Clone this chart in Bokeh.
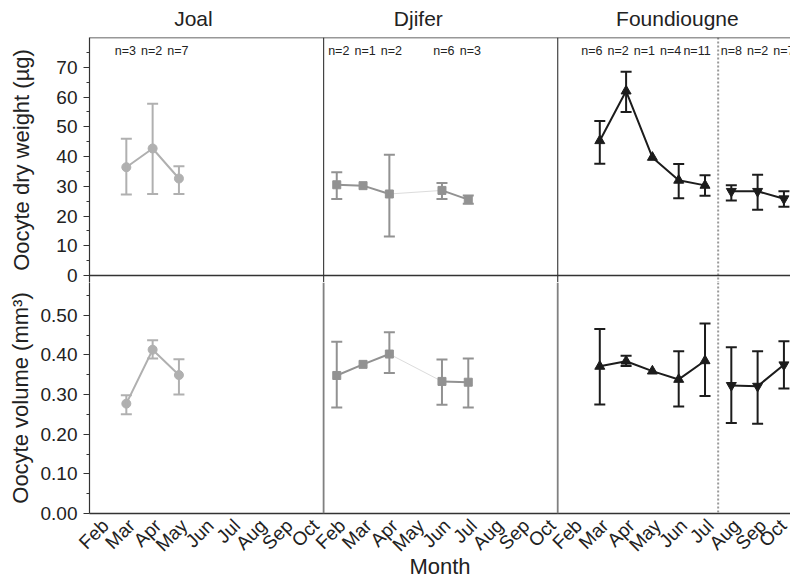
import math
from bokeh.plotting import figure
from bokeh.layouts import column
from bokeh.models import (Range1d, FixedTicker, Span, Whisker, TeeHead,
                          ColumnDataSource, LinearAxis, NumeralTickFormatter)
from bokeh.core.properties import value
from bokeh.embed import file_html
from bokeh.resources import INLINE

FONT = "Liberation Sans"
TXT = "#222222"

# ---------------- data ----------------
months = ["Feb", "Mar", "Apr", "May", "Jun", "Jul", "Aug", "Sep", "Oct"]
sites = ["Joal", "Djifer", "Foundiougne"]

joal_months = ["Mar", "Apr", "May"]
joal_n = [3, 2, 7]
joal_dw = [36.4, 42.7, 32.6]
joal_dw_lo = [27.2, 27.4, 27.4]
joal_dw_hi = [46.0, 57.7, 36.7]
joal_vol = [0.277, 0.413, 0.349]
joal_vol_lo = [0.250, 0.391, 0.300]
joal_vol_hi = [0.298, 0.437, 0.389]

djifer_months = ["Feb", "Mar", "Apr", "Jun", "Jul"]
djifer_n = [2, 1, 2, 6, 3]
djifer_dw = [30.5, 30.2, 27.4, 28.6, 25.5]
djifer_dw_lo = [25.7, None, 13.1, 25.7, 24.1]
djifer_dw_hi = [34.7, None, 40.6, 31.1, 26.9]
djifer_vol = [0.348, 0.376, 0.402, 0.333, 0.331]
djifer_vol_lo = [0.267, None, 0.354, 0.274, 0.267]
djifer_vol_hi = [0.433, None, 0.457, 0.388, 0.391]

found1_months = ["Mar", "Apr", "May", "Jun", "Jul"]
found1_n = [6, 2, 1, 4, 11]
found1_dw = [45.3, 62.0, 39.7, 32.0, 30.3]
found1_dw_lo = [37.6, 55.0, None, 26.0, 26.8]
found1_dw_hi = [51.9, 68.5, None, 37.5, 33.7]
found1_vol = [0.371, 0.384, 0.359, 0.338, 0.385]
found1_vol_lo = [0.275, 0.372, None, 0.270, 0.296]
found1_vol_hi = [0.465, 0.398, None, 0.409, 0.479]

found2_months = ["Aug", "Sep", "Oct"]
found2_n = [8, 2, 7]
found2_dw = [28.3, 28.3, 25.8]
found2_dw_lo = [25.2, 22.1, 23.1]
found2_dw_hi = [30.3, 33.9, 28.3]
found2_vol = [0.323, 0.321, 0.375]
found2_vol_lo = [0.228, 0.226, 0.315]
found2_vol_hi = [0.419, 0.409, 0.434]

series = [
    dict(site=0, months=joal_months, n=joal_n, color="#b0b0b0", marker="circle", size=9, noff=-1,
         dw=(joal_dw, joal_dw_lo, joal_dw_hi), vol=(joal_vol, joal_vol_lo, joal_vol_hi)),
    dict(site=1, months=djifer_months, n=djifer_n, color="#929292", marker="square", size=8, noff=2,
         dw=(djifer_dw, djifer_dw_lo, djifer_dw_hi), vol=(djifer_vol, djifer_vol_lo, djifer_vol_hi)),
    dict(site=2, months=found1_months, n=found1_n, color="#1c1c1c", marker="triangle", size=10, noff=-8,
         dw=(found1_dw, found1_dw_lo, found1_dw_hi), vol=(found1_vol, found1_vol_lo, found1_vol_hi)),
    dict(site=2, months=found2_months, n=found2_n, color="#1c1c1c", marker="inverted_triangle", size=10, noff=0,
         dw=(found2_dw, found2_dw_lo, found2_dw_hi), vol=(found2_vol, found2_vol_lo, found2_vol_hi)),
]

title_x = [3.55, 12.1, 21.95]


def xs_of(s):
    return [s["site"] * 9 + months.index(m) for m in s["months"]]


def style_yaxis(ax):
    ax.axis_line_color = "#333333"
    ax.axis_line_width = 1.2
    ax.major_tick_line_color = "#333333"
    ax.minor_tick_line_color = "#333333"
    ax.major_tick_out = 6
    ax.major_tick_in = 0
    ax.minor_tick_out = 3
    ax.minor_tick_in = 0
    ax.major_label_standoff = 6
    ax.major_label_text_font = FONT
    ax.major_label_text_font_size = "19px"
    ax.major_label_text_color = TXT
    ax.axis_label_text_font = FONT
    ax.axis_label_text_font_size = "22px"
    ax.axis_label_text_font_style = "normal"
    ax.axis_label_text_color = TXT


def make_fig(height, yr, top, bottom, xaxis):
    p = figure(width=790, height=height, x_range=Range1d(-0.4, 26.25), y_range=yr,
               output_backend="svg", toolbar_location=None,
               min_border_left=89, min_border_right=0, min_border_top=top,
               min_border_bottom=bottom, x_axis_location="below" if xaxis else None)
    p.outline_line_color = None
    p.xgrid.visible = False
    p.ygrid.visible = False
    style_yaxis(p.yaxis[0])
    return p


def draw(p, key, dark_div):
    for s in series:
        xs = xs_of(s)
        ys, lo, hi = s[key]
        lx, ly = [], []
        for i, (x, y) in enumerate(zip(xs, ys)):
            if i > 0 and x - xs[i - 1] > 1:
                lx.append(float("nan"))
                ly.append(float("nan"))
                p.line([xs[i - 1], x], [ys[i - 1], y], line_color="#dcdcdc", line_width=1)
            lx.append(x)
            ly.append(y)
        p.line(lx, ly, line_color=s["color"], line_width=2)
        wx = [x for x, l in zip(xs, lo) if l is not None]
        wl = [l for l in lo if l is not None]
        wh = [h for h in hi if h is not None]
        src = ColumnDataSource(dict(x=wx, lo=wl, hi=wh))
        w = Whisker(base="x", lower="lo", upper="hi", source=src, level="glyph",
                    line_color=s["color"], line_width=2,
                    upper_head=TeeHead(size=11, line_color=s["color"], line_width=2),
                    lower_head=TeeHead(size=11, line_color=s["color"], line_width=2))
        p.add_layout(w)
        p.scatter(xs, ys, marker=s["marker"], size=s["size"], fill_color=s["color"],
                  line_color=s["color"])
    for loc in (8.5, 17.4):
        p.add_layout(Span(location=loc, dimension="height",
                          line_color="#444444" if dark_div else "#808080",
                          line_width=1.2 if dark_div else 1.8))
    p.add_layout(Span(location=23.5, dimension="height", line_color="#9a9a9a",
                      line_width=2, line_dash="2 2"))


# ---------------- top: dry weight ----------------
p1 = make_fig(282, Range1d(-2.35, 80), 37, 0, False)
p1.yaxis[0].ticker = FixedTicker(ticks=[0, 10, 20, 30, 40, 50, 60, 70],
                                 minor_ticks=[5, 15, 25, 35, 45, 55, 65, 75])
p1.yaxis[0].axis_label = "Oocyte dry weight (µg)"
p1.yaxis[0].axis_label_standoff = 19
draw(p1, "dw", True)
p1.add_layout(Span(location=80, dimension="width", line_color="#333333", line_width=1.4))
p1.add_layout(Span(location=0, dimension="width", line_color="#333333", line_width=1.4))

for s in series:
    p1.text(xs_of(s), [75.6] * len(s["n"]), text=["n=%d" % k for k in s["n"]],
            text_font=value(FONT), text_font_size="12.5px", text_color=TXT,
            text_align="center", text_baseline="middle", x_offset=s["noff"])

# site names as an axis above the top panel
top_ax = LinearAxis(ticker=FixedTicker(ticks=title_x, minor_ticks=[]),
                    major_label_overrides={t: n for t, n in zip(title_x, sites)})
top_ax.axis_line_color = None
top_ax.major_tick_line_color = None
top_ax.minor_tick_line_color = None
top_ax.major_tick_out = 0
top_ax.major_tick_in = 0
top_ax.major_label_standoff = 8
top_ax.major_label_text_font = FONT
top_ax.major_label_text_font_size = "21px"
top_ax.major_label_text_color = TXT
p1.add_layout(top_ax, "above")

# ---------------- bottom: volume ----------------
p2 = make_fig(299, Range1d(0, 0.5824), 0, 68, True)
p2.yaxis[0].ticker = FixedTicker(ticks=[0, 0.1, 0.2, 0.3, 0.4, 0.5],
                                 minor_ticks=[0.05, 0.15, 0.25, 0.35, 0.45, 0.55])
p2.yaxis[0].formatter = NumeralTickFormatter(format="0.00")
p2.yaxis[0].axis_label = "Oocyte volume (mm³)"
p2.yaxis[0].axis_label_standoff = 5
draw(p2, "vol", False)

xa = p2.xaxis[0]
tick_pos = [i + 0.2 for i in range(27)]
xa.ticker = FixedTicker(ticks=tick_pos, minor_ticks=[])
xa.major_label_overrides = {t: months[i % 9] for i, t in enumerate(tick_pos)}
xa.major_label_orientation = math.pi / 4
xa.major_tick_out = 0
xa.major_tick_in = 0
xa.minor_tick_out = 0
xa.minor_tick_in = 0
xa.axis_line_color = "#333333"
xa.axis_line_width = 1.4
xa.major_label_standoff = 9
xa.major_label_text_font = FONT
xa.major_label_text_font_size = "19px"
xa.major_label_text_color = TXT
xa.axis_label = "Month"
xa.axis_label_standoff = -12
xa.axis_label_text_font = FONT
xa.axis_label_text_font_size = "22px"
xa.axis_label_text_font_style = "normal"
xa.axis_label_text_color = TXT

layout = column(p1, p2, spacing=0)
open("out.html", "w").write(file_html(layout, INLINE))
